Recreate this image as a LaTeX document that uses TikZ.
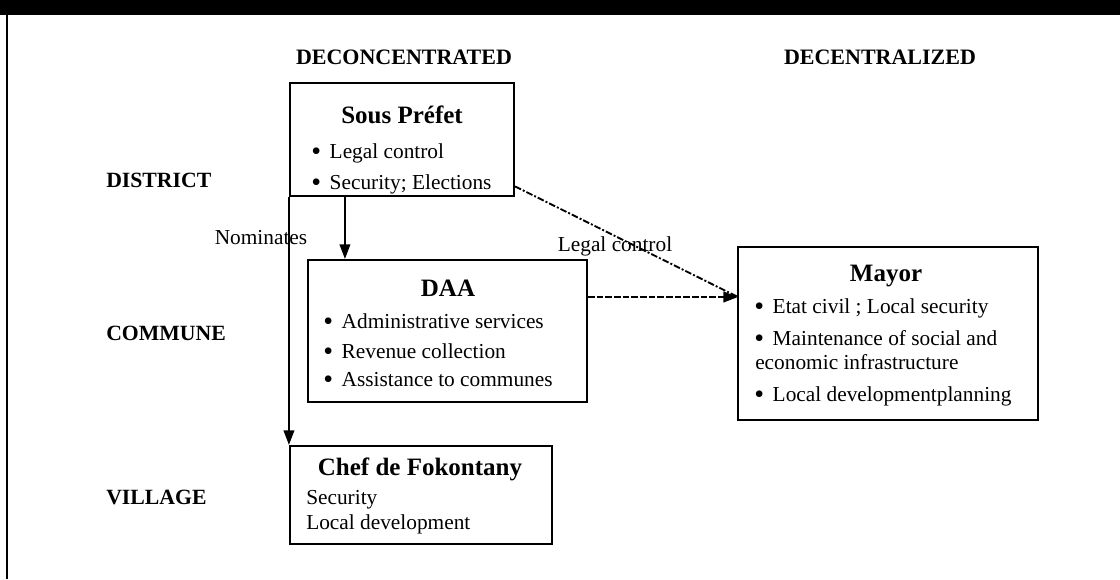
\documentclass[tikz,border=0pt]{standalone}
\usepackage{fontspec}
\setmainfont{Liberation Serif}
\usetikzlibrary{arrows.meta,fit}
\newcommand{\bul}{\raisebox{-1.6pt}{\fontsize{21}{21}\selectfont\textbullet}\hspace{6.5pt}}

\begin{document}
\begin{tikzpicture}[x=0.75pt,y=-0.75pt,
  box/.style={draw,line width=1.6pt,inner sep=0pt},
  hdr/.style={font=\fontsize{16.5}{19}\selectfont\bfseries,anchor=base,inner sep=0pt},
  lvl/.style={font=\fontsize{16.3}{19}\selectfont\bfseries,anchor=base west,inner sep=0pt},
  ttl/.style={font=\fontsize{18.75}{22}\selectfont\bfseries,anchor=base,inner sep=0pt},
  itm/.style={font=\fontsize{16}{19}\selectfont,anchor=base west,inner sep=0pt},
  lbl/.style={font=\fontsize{16}{19}\selectfont,anchor=base,inner sep=0pt},
  arr/.style={line width=1.4pt,-{Triangle[length=11pt,width=8pt]}},
  dsh/.style={arr,dash pattern=on 5pt off 1.5pt},
  dshdot/.style={line width=1.4pt,dash pattern=on 5pt off 1.5pt on 1.5pt off 1.5pt}]
\useasboundingbox (0,0) rectangle (1120,579);
\fill (0,0) rectangle (1120,15);
\draw[line width=2pt] (7,15) -- (7,579);

\node[hdr] (deconc) at (404,64) {DECONCENTRATED};
\node[hdr] (decent) at (880,64) {DECENTRALIZED};
\node[lvl] (district) at (106,187) {DISTRICT};
\node[lvl] (commune) at (106,340) {COMMUNE};
\node[lvl] (village) at (106,504) {VILLAGE};

\node[box,fit={(290,83) (514,196)}] (sp) {};
\node[ttl] (sp-t) at (402,123) {Sous Préfet};
\node[itm] (sp-1) at (311,158) {\bul Legal control};
\node[itm] (sp-2) at (311,189) {\bul Security; Elections};

\node[box,fit={(308,260) (587,402)}] (daa) {};
\node[ttl] (daa-t) at (448,296) {DAA};
\node[itm] (daa-1) at (323,328) {\bul Administrative services};
\node[itm] (daa-2) at (323,358) {\bul Revenue collection};
\node[itm] (daa-3) at (323,386) {\bul Assistance to communes};

\node[box,fit={(738,247) (1038,420)}] (mayor) {};
\node[ttl] (mayor-t) at (886,281) {Mayor};
\node[itm] (mayor-1) at (754,313) {\bul Etat civil ; Local security};
\node[itm] (mayor-2) at (754,345) {\bul Maintenance of social and};
\node[itm] (mayor-3) at (755,369) {economic infrastructure};
\node[itm] (mayor-4) at (754,401) {\bul Local developmentplanning};

\node[box,fit={(290,446) (552,544)}] (chef) {};
\node[ttl] (chef-t) at (420,475) {Chef de Fokontany};
\node[itm] (chef-1) at (306,504) {Security};
\node[itm] (chef-2) at (306,529) {Local development};

\node[lbl] (nominates) at (261,244) {Nominates};
\node[lbl] (legalctl) at (615,251) {Legal control};
\coordinate (legal) at (738,297);

\draw[arr] (sp.south west) -- (sp.south west |- chef.north);
\draw[arr] ([xshift=42pt]sp.south west) -- ([xshift=42pt]sp.south west |- daa.north);
\draw[dsh] (daa.east |- legal) -- (legal);
\draw[dshdot] ([yshift=8pt]sp.south east) -- (legal);
\end{tikzpicture}
\end{document}
